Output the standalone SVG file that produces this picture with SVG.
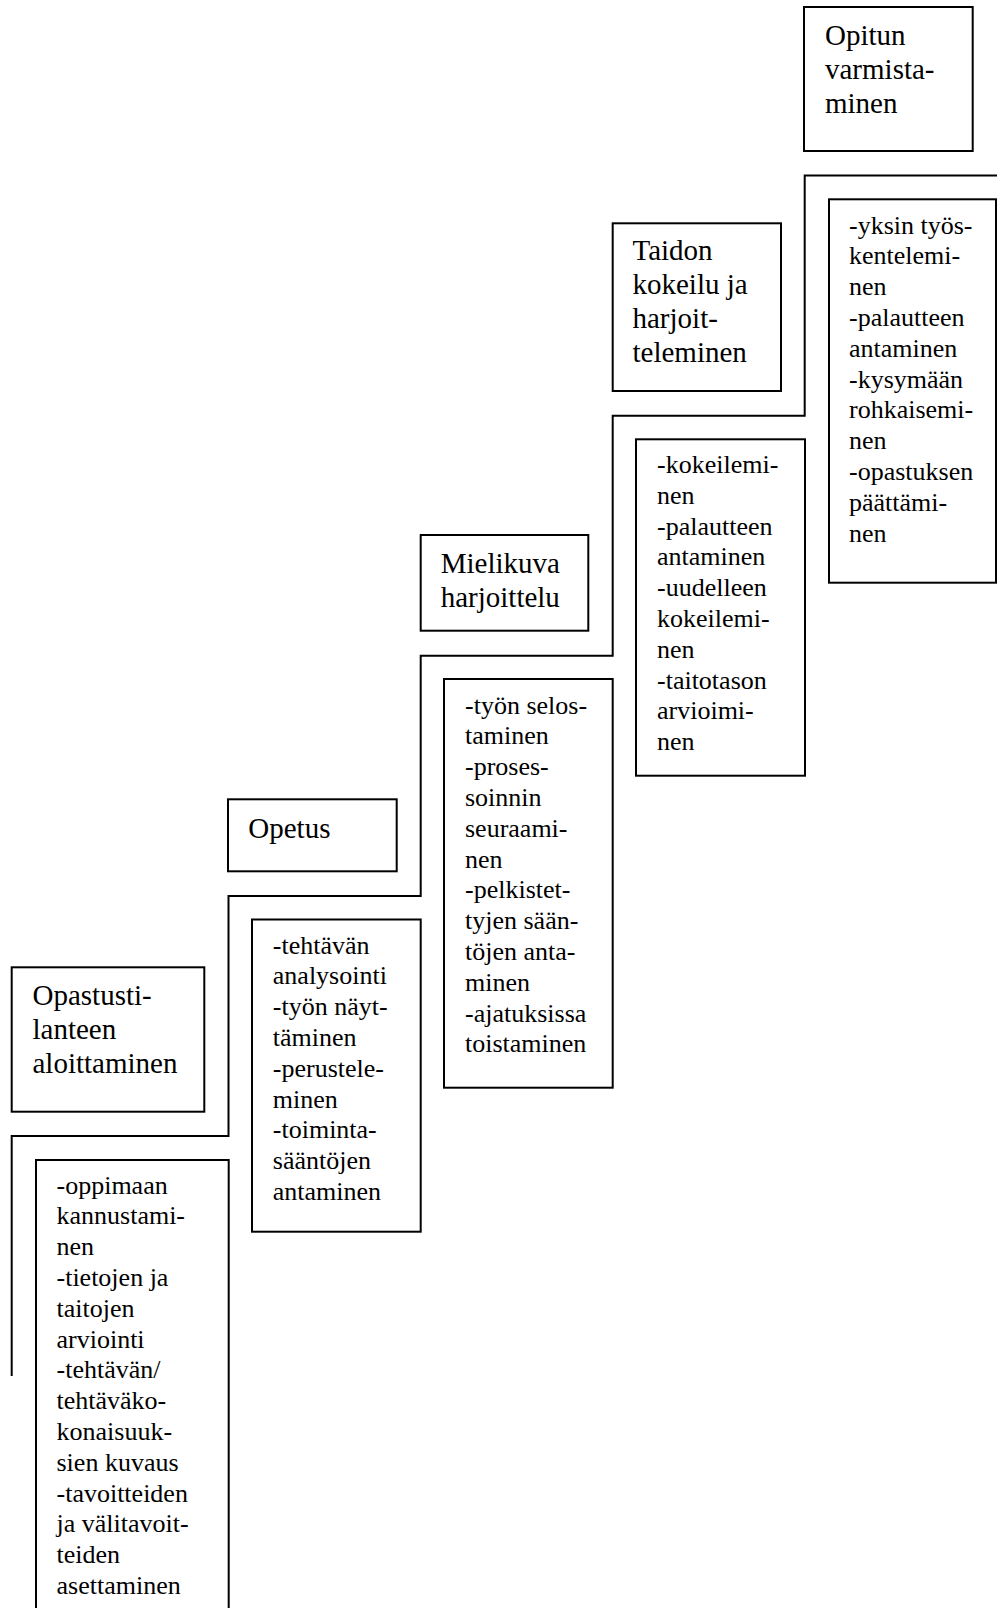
<svg xmlns="http://www.w3.org/2000/svg" width="998" height="1608" viewBox="0 0 998 1608">
<style>
rect.b{fill:none;stroke:#000;stroke-width:2}
.stair{fill:none;stroke:#000;stroke-width:2}
text{font-family:"Liberation Serif","Times New Roman",serif;fill:#000}
.t{font-size:29px}
.d{font-size:26px}
</style>
<rect width="998" height="1608" fill="#fff"/>
<g id="connectors">
<path class="stair" d="M11.7,1376 V1136 H228.5 V896 H420.7 V655.7 H612.7 V415.7 H804.7 V175.5 H997"/>
</g>
<g id="opastus">
<rect class="b" x="11.7" y="967.3" width="192.6" height="144.4"/>
<text class="t"><tspan x="32.5" y="1004.5">Opastusti-</tspan><tspan x="32.5" y="1038.5">lanteen</tspan><tspan x="32.5" y="1072.5">aloittaminen</tspan></text>
</g>
<g id="opastus-detail">
<rect class="b" x="36" y="1160" width="192.7" height="470"/>
<text class="d"><tspan x="56.5" y="1193.5">-oppimaan</tspan><tspan x="56.5" dy="30.8">kannustami-</tspan><tspan x="56.5" dy="30.8">nen</tspan><tspan x="56.5" dy="30.8">-tietojen ja</tspan><tspan x="56.5" dy="30.8">taitojen</tspan><tspan x="56.5" dy="30.8">arviointi</tspan><tspan x="56.5" dy="30.8">-tehtävän/</tspan><tspan x="56.5" dy="30.8">tehtäväko-</tspan><tspan x="56.5" dy="30.8">konaisuuk-</tspan><tspan x="56.5" dy="30.8">sien kuvaus</tspan><tspan x="56.5" dy="30.8">-tavoitteiden</tspan><tspan x="56.5" dy="30.8">ja välitavoit-</tspan><tspan x="56.5" dy="30.8">teiden</tspan><tspan x="56.5" dy="30.8">asettaminen</tspan></text>
</g>
<g id="opetus">
<rect class="b" x="228" y="799.3" width="168.7" height="72"/>
<text class="t"><tspan x="248.3" y="837.5">Opetus</tspan></text>
</g>
<g id="opetus-detail">
<rect class="b" x="252" y="919.5" width="168.7" height="312.2"/>
<text class="d"><tspan x="272.8" y="953.5">-tehtävän</tspan><tspan x="272.8" dy="30.8">analysointi</tspan><tspan x="272.8" dy="30.8">-työn näyt-</tspan><tspan x="272.8" dy="30.8">täminen</tspan><tspan x="272.8" dy="30.8">-perustele-</tspan><tspan x="272.8" dy="30.8">minen</tspan><tspan x="272.8" dy="30.8">-toiminta-</tspan><tspan x="272.8" dy="30.8">sääntöjen</tspan><tspan x="272.8" dy="30.8">antaminen</tspan></text>
</g>
<g id="mielikuva">
<rect class="b" x="420.7" y="535" width="167.6" height="95.7"/>
<text class="t"><tspan x="440.7" y="573">Mielikuva</tspan><tspan x="440.7" dy="34">harjoittelu</tspan></text>
</g>
<g id="mielikuva-detail">
<rect class="b" x="444" y="679" width="168.7" height="408.7"/>
<text class="d"><tspan x="465" y="713.5">-työn selos-</tspan><tspan x="465" dy="30.8">taminen</tspan><tspan x="465" dy="30.8">-proses-</tspan><tspan x="465" dy="30.8">soinnin</tspan><tspan x="465" dy="30.8">seuraami-</tspan><tspan x="465" dy="30.8">nen</tspan><tspan x="465" dy="30.8">-pelkistet-</tspan><tspan x="465" dy="30.8">tyjen sään-</tspan><tspan x="465" dy="30.8">töjen anta-</tspan><tspan x="465" dy="30.8">minen</tspan><tspan x="465" dy="30.8">-ajatuksissa</tspan><tspan x="465" dy="30.8">toistaminen</tspan></text>
</g>
<g id="taidon">
<rect class="b" x="612.7" y="223.3" width="168.3" height="167.7"/>
<text class="t"><tspan x="632.5" y="260">Taidon</tspan><tspan x="632.5" dy="34">kokeilu ja</tspan><tspan x="632.5" dy="34">harjoit-</tspan><tspan x="632.5" dy="34">teleminen</tspan></text>
</g>
<g id="taidon-detail">
<rect class="b" x="636" y="439.3" width="169" height="336.4"/>
<text class="d"><tspan x="657" y="473">-kokeilemi-</tspan><tspan x="657" dy="30.8">nen</tspan><tspan x="657" dy="30.8">-palautteen</tspan><tspan x="657" dy="30.8">antaminen</tspan><tspan x="657" dy="30.8">-uudelleen</tspan><tspan x="657" dy="30.8">kokeilemi-</tspan><tspan x="657" dy="30.8">nen</tspan><tspan x="657" dy="30.8">-taitotason</tspan><tspan x="657" dy="30.8">arvioimi-</tspan><tspan x="657" dy="30.8">nen</tspan></text>
</g>
<g id="opitun">
<rect class="b" x="804" y="7" width="168.7" height="144"/>
<text class="t"><tspan x="825" y="44.5">Opitun</tspan><tspan x="825" dy="34">varmista-</tspan><tspan x="825" dy="34">minen</tspan></text>
</g>
<g id="opitun-detail">
<rect class="b" x="829" y="199.3" width="167" height="383.4"/>
<text class="d"><tspan x="849" y="233.5">-yksin työs-</tspan><tspan x="849" dy="30.8">kentelemi-</tspan><tspan x="849" dy="30.8">nen</tspan><tspan x="849" dy="30.8">-palautteen</tspan><tspan x="849" dy="30.8">antaminen</tspan><tspan x="849" dy="30.8">-kysymään</tspan><tspan x="849" dy="30.8">rohkaisemi-</tspan><tspan x="849" dy="30.8">nen</tspan><tspan x="849" dy="30.8">-opastuksen</tspan><tspan x="849" dy="30.8">päättämi-</tspan><tspan x="849" dy="30.8">nen</tspan></text>
</g>
</svg>
